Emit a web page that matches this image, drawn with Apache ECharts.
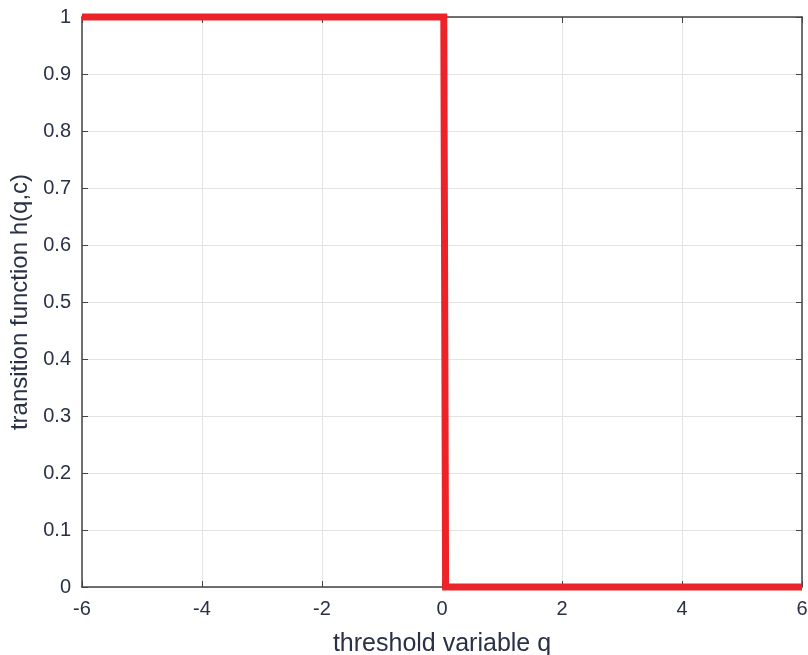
<!DOCTYPE html>
<html><head><meta charset="utf-8">
<script src="https://cdn.jsdelivr.net/npm/echarts@6/dist/echarts.min.js"></script>
<style>html,body{margin:0;padding:0;background:#fff}#c{width:808px;height:655px}</style>
</head><body><div id="c"></div>
<script>
const stepX = [-6, 0.03, 0.06, 6];
const stepY = [1, 1, 0, 0];
const xTicks = [-6, -4, -2, 0, 2, 4, 6];
const yTicks = [0, 0.1, 0.2, 0.3, 0.4, 0.5, 0.6, 0.7, 0.8, 0.9, 1];

const txt = '#2a3146';
const font = 'Liberation Sans, Arial, sans-serif';
const chart = echarts.init(document.getElementById('c'));
const axLine = {show: true, onZero: false, lineStyle: {color: '#444', width: 1.5}};
const tick = {show: true, inside: true, length: 6, lineStyle: {color: '#444'}};
chart.setOption({
  animation: false,
  grid: {left: 82, right: 6, top: 17, bottom: 68, containLabel: false, outerBoundsMode: 'none'},
  xAxis: [{
    type: 'value', min: -6, max: 6, interval: 2,
    axisLine: axLine, axisTick: tick,
    axisLabel: {color: txt, fontSize: 20, fontFamily: font, margin: 12},
    splitLine: {show: true, lineStyle: {color: '#e3e3e3'}},
    name: 'threshold variable q', nameLocation: 'middle', nameGap: 45,
    nameTextStyle: {color: txt, fontSize: 25, fontFamily: font}
  }, {
    type: 'value', position: 'top', min: -6, max: 6, interval: 2,
    axisLine: axLine, axisTick: tick, axisLabel: {show: false}, splitLine: {show: false}
  }],
  yAxis: [{
    type: 'value', min: 0, max: 1, interval: 0.1,
    axisLine: axLine, axisTick: tick,
    axisLabel: {color: txt, fontSize: 20, fontFamily: font, margin: 11,
      formatter: v => String(Math.round(v*10)/10)},
    splitLine: {show: true, lineStyle: {color: '#e3e3e3'}},
    name: 'transition function h(q,c)', nameLocation: 'middle', nameGap: 48,
    nameTextStyle: {color: txt, fontSize: 24, fontFamily: font}
  }, {
    type: 'value', position: 'right', min: 0, max: 1, interval: 0.1,
    axisLine: axLine, axisTick: tick, axisLabel: {show: false}, splitLine: {show: false}
  }],
  series: [{
    type: 'line', symbol: 'none', clip: false,
    data: stepX.map((x, i) => [x, stepY[i]]),
    lineStyle: {color: '#ec2329', width: 7, join: 'miter'}
  }]
});
</script></body></html>
